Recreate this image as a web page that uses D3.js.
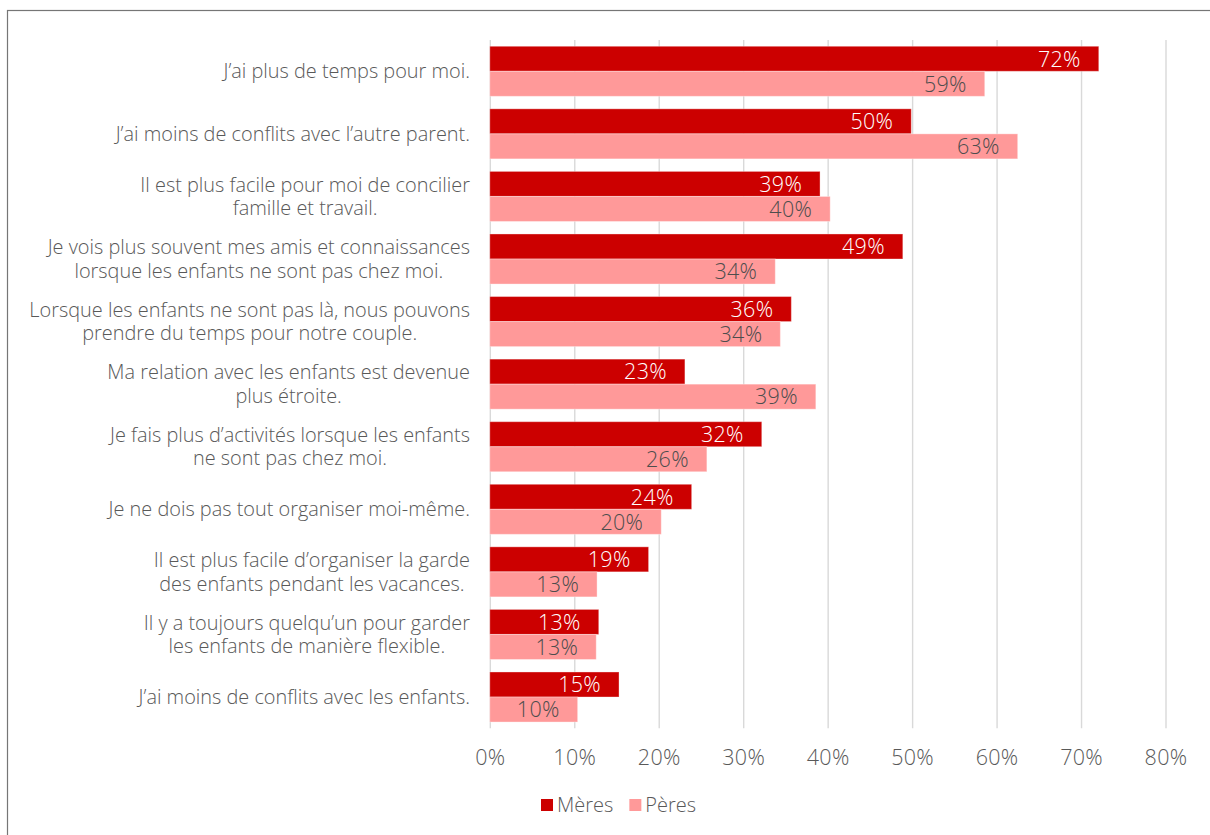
<!DOCTYPE html>
<html>
<head>
<meta charset="utf-8">
<script src="https://cdn.jsdelivr.net/npm/d3@7"></script>
<style>
  html, body { margin: 0; padding: 0; background: #ffffff; }
  svg { display: block; }
</style>
</head>
<body>
<svg id="chart" width="1210" height="835"></svg>
<script>
// ---- Data ----
const categories = [
  ["J\u2019ai plus de temps pour moi."],
  ["J\u2019ai moins de conflits avec l\u2019autre parent."],
  ["Il est plus facile pour moi de concilier", "famille et travail."],
  ["Je vois plus souvent mes amis et connaissances", "lorsque les enfants ne sont pas chez moi."],
  ["Lorsque les enfants ne sont pas là, nous pouvons", "prendre du temps pour notre couple."],
  ["Ma relation avec les enfants est devenue", "plus étroite."],
  ["Je fais plus d\u2019activités lorsque les enfants", "ne sont pas chez moi."],
  ["Je ne dois pas tout organiser moi-même."],
  ["Il est plus facile d\u2019organiser la garde", "des enfants pendant les vacances."],
  ["Il y a toujours quelqu\u2019un pour garder", "les enfants de manière flexible."],
  ["J\u2019ai moins de conflits avec les enfants."]
];
const meres = [72.1, 49.9, 39.1, 48.9, 35.7, 23.1, 32.2, 23.9, 18.8, 12.9, 15.3];
const peres = [58.6, 62.5, 40.3, 33.8, 34.4, 38.6, 25.7, 20.3, 12.7, 12.6, 10.4];
const seriesNames = ["Mères", "Pères"];
const xTicks = [0, 10, 20, 30, 40, 50, 60, 70, 80];

// ---- Layout ----
const colors = { "Mères": "#cc0000", "Pères": "#ff9999" };
const svg = d3.select("#chart");
const FONT = "'Open Sans', 'Noto Sans', sans-serif";
const WEIGHT = 300;
const plot = { left: 489.8, right: 1165.5, top: 40, bottom: 728.3 };

// frame
svg.append("rect")
  .attr("x", 7.5).attr("y", 10.5)
  .attr("width", 1230).attr("height", 860)
  .attr("fill", "none").attr("stroke", "#767676").attr("stroke-width", 1.2);

const x = d3.scaleLinear().domain([0, 80]).range([plot.left, plot.right]);
const y = d3.scaleBand().domain(d3.range(categories.length))
  .range([plot.top, plot.bottom]).paddingInner(0.2).paddingOuter(0.1);
const sub = d3.scaleBand().domain(seriesNames).range([0, y.bandwidth()]);

// gridlines
const grid = svg.append("g")
  .attr("transform", `translate(0,${plot.bottom})`)
  .call(d3.axisBottom(x).tickValues(xTicks).tickSize(-(plot.bottom - plot.top)).tickFormat(""));
grid.select(".domain").remove();
grid.selectAll("line").attr("stroke", "#d9d9d9").attr("stroke-width", 1.4);

// axis labels
const ax = svg.append("g")
  .attr("transform", `translate(0,${plot.bottom})`)
  .call(d3.axisBottom(x).tickValues(xTicks).tickSize(0).tickPadding(0).tickFormat(d => d + "%"));
ax.select(".domain").remove();
ax.selectAll("text")
  .attr("y", 29).attr("dy", "0.35em")
  .attr("fill", "#595959").style("font-family", FONT).style("font-size", "21.5px")
  .style("font-weight", WEIGHT).style("letter-spacing", "0.3px");

// bars
const rows = categories.map((c, i) => ({ i, values: [
  { key: "Mères", v: meres[i] }, { key: "Pères", v: peres[i] }] }));

const g = svg.append("g").selectAll("g").data(rows).join("g")
  .attr("transform", d => `translate(0,${y(d.i)})`);

g.selectAll("rect").data(d => d.values).join("rect")
  .attr("x", x(0))
  .attr("y", d => sub(d.key))
  .attr("width", d => x(d.v) - x(0))
  .attr("height", sub.bandwidth())
  .attr("fill", d => colors[d.key])
  .attr("stroke", "#ffffff").attr("stroke-opacity", 0.35).attr("stroke-width", 1);

g.selectAll("text.val").data(d => d.values).join("text")
  .attr("class", "val")
  .attr("x", d => x(d.v) - 18)
  .attr("y", d => sub(d.key) + sub.bandwidth() / 2)
  .attr("dy", "0.36em")
  .attr("text-anchor", "end")
  .attr("fill", d => d.key === "Mères" ? "#ffffff" : "#4d4d4d")
  .style("font-family", FONT).style("font-size", "21.5px").style("font-weight", WEIGHT)
  .style("letter-spacing", "0.3px")
  .text(d => Math.round(d.v) + "%");

// category labels (block centered, right edge at 470)
const labelRight = 470;
const lineH = 23.5;
categories.forEach((lines, i) => {
  const cy = y(i) + y.bandwidth() / 2;
  const grp = svg.append("g");
  const texts = lines.map((ln, k) => grp.append("text")
    .attr("y", cy + (k - (lines.length - 1) / 2) * lineH)
    .attr("dy", "0.35em")
    .attr("text-anchor", "middle")
    .attr("fill", "#595959")
    .style("font-family", FONT).style("font-size", "19.9px").style("font-weight", WEIGHT)
    .text(ln));
  const maxW = d3.max(texts, t => t.node().getComputedTextLength());
  texts.forEach(t => t.attr("x", labelRight - maxW / 2));
});

// legend
let lx = 541;
const ly = 805;
seriesNames.forEach(name => {
  svg.append("rect").attr("x", lx).attr("y", ly - 6).attr("width", 12).attr("height", 12)
    .attr("fill", colors[name]);
  const t = svg.append("text").attr("x", lx + 16).attr("y", ly).attr("dy", "0.35em")
    .attr("fill", "#595959").style("font-family", FONT).style("font-size", "20px")
    .style("font-weight", WEIGHT)
    .text(name);
  lx += 16 + t.node().getComputedTextLength() + 16;
});
</script>
</body>
</html>
